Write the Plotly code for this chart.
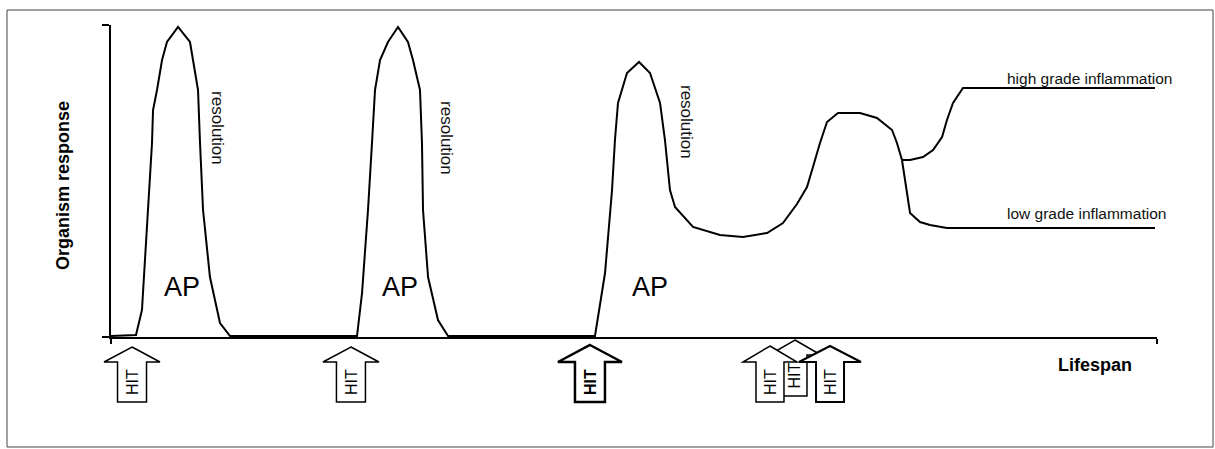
import plotly.graph_objects as go

# ---- data (lifespan units 0-100, organism response 0-100) ----
main_x = [0, 2.39, 2.96, 3.54, 3.92, 4.02, 4.40, 4.88, 5.35, 6.41, 7.55, 7.84, 8.32, 8.51, 8.80, 9.46, 10.42, 11.38,
          23.52, 24.00, 24.57, 24.95, 25.24, 25.72, 26.48, 27.44, 28.39, 28.87, 29.54, 29.73, 29.83, 30.31, 31.26, 32.22,
          46.27, 47.23, 47.90, 48.18, 48.47, 49.33, 50.48, 51.53, 52.49, 52.96, 53.44, 53.92, 55.64, 58.22, 60.42,
          62.72, 64.24, 65.58, 66.54, 67.11, 67.78, 68.45, 69.50, 71.61, 73.23, 74.67, 75.14, 75.62]
main_y = [0.32, 0.64, 8.65, 40.71, 62.18, 72.76, 79.17, 88.78, 94.55, 99.36, 94.55, 88.78, 79.17, 62.18, 40.71, 19.23, 4.49, 0.32,
          0.32, 14.10, 40.71, 62.18, 79.17, 88.78, 94.55, 99.36, 94.55, 88.78, 79.17, 62.18, 40.71, 19.23, 5.45, 0.32,
          0.32, 20.51, 47.12, 63.14, 75.00, 84.62, 88.14, 84.62, 75.00, 63.14, 47.12, 41.67, 35.26, 32.69, 32.05,
          33.33, 36.54, 42.63, 48.08, 54.49, 62.18, 68.91, 71.79, 71.79, 70.19, 66.35, 62.18, 56.73]
high_x = [75.62, 76.39, 77.63, 78.59, 79.45, 79.92, 80.50, 81.45, 99.81]
high_y = [56.73, 56.73, 57.69, 59.94, 64.10, 69.55, 75.00, 79.81, 79.81]
low_x = [75.62, 76.10, 76.39, 77.34, 78.30, 79.92, 99.81]
low_y = [56.73, 46.15, 39.74, 36.86, 35.90, 34.94, 34.94]

hit_times = [2.01, 22.94, 45.79, 65.39, 63.0, 68.74]
hit_labels = ["HIT", "HIT", "HIT", "HIT", "HIT", "HIT"]

ap_x = [6.79, 27.63, 51.53]
ap_y = [16.0, 16.0, 16.0]
res_x = [10.13, 32.12, 55.07]
res_y = [66.99, 63.78, 68.91]

# ---- styles ----
FONT = "Liberation Sans, Arial, sans-serif"
W, H = 1215, 449
ML, MR, MT, MB = 111, 58, 25, 112
X_RANGE = [0, 100]
Y_RANGE = [0, 100]
# arrow geometry (pixels): tip depth, head depth, bottom depth, head half width, shaft half width, line width, bold
arrow_style = [
    (10, 25, 65, 28, 14.5, 1.5, False),
    (10, 25, 65, 28, 14.5, 1.5, False),
    (8, 25, 65, 32, 15, 2.5, True),
    (3, 18, 59, 26, 12, 1.5, False),
    (9, 25, 65, 27, 14, 1.5, False),
    (9, 25, 65, 31, 14, 2, False),
]


def x_to_paper(v):
    return (v - X_RANGE[0]) / (X_RANGE[1] - X_RANGE[0])


fig = go.Figure()
line = dict(color="black", width=2)
fig.add_trace(go.Scatter(x=main_x, y=main_y, mode="lines", line=line, hoverinfo="skip"))
fig.add_trace(go.Scatter(x=high_x, y=high_y, mode="lines", line=line, hoverinfo="skip"))
fig.add_trace(go.Scatter(x=low_x, y=low_y, mode="lines", line=line, hoverinfo="skip"))

shapes = []
annotations = []
for t, lab, (tip, hd, bot, hw, sw, lw, bold) in zip(hit_times, hit_labels, arrow_style):
    path = (f"M 0 {-tip} L {hw} {-hd} L {sw} {-hd} L {sw} {-bot} L {-sw} {-bot} "
            f"L {-sw} {-hd} L {-hw} {-hd} Z")
    shapes.append(dict(type="path", xref="paper", yref="paper", xsizemode="pixel", ysizemode="pixel",
                       xanchor=x_to_paper(t), yanchor=0, path=path, fillcolor="white",
                       line=dict(color="black", width=lw)))
    annotations.append(dict(x=t, y=0, xref="x", yref="y", yshift=-(hd + bot) / 2,
                            text=f"<b>{lab}</b>" if bold else lab, textangle=-90, showarrow=False,
                            font=dict(family=FONT, size=16, color="black")))

for x, y in zip(ap_x, ap_y):
    annotations.append(dict(x=x, y=y, xref="x", yref="y", text="AP", showarrow=False,
                            font=dict(family=FONT, size=27, color="black")))
for x, y in zip(res_x, res_y):
    annotations.append(dict(x=x, y=y, xref="x", yref="y", text="resolution", textangle=90,
                            showarrow=False, font=dict(family=FONT, size=17, color="#111")))

annotations.append(dict(x=85.47, y=83.0, xref="x", yref="y", xanchor="left", text="high grade inflammation",
                        showarrow=False, font=dict(family=FONT, size=15.5, color="#111")))
annotations.append(dict(x=85.47, y=39.74, xref="x", yref="y", xanchor="left", text="low grade inflammation",
                        showarrow=False, font=dict(family=FONT, size=15.5, color="#111")))
annotations.append(dict(x=94.07, y=0, xref="x", yref="y", yshift=-28, text="<b>Lifespan</b>",
                        showarrow=False, font=dict(family=FONT, size=18, color="black")))
annotations.append(dict(x=-48 / (W - ML - MR), y=48.4, xref="paper", yref="y", xanchor="center",
                        yanchor="middle", text="<b>Organism response</b>",
                        textangle=-90, showarrow=False, font=dict(family=FONT, size=18, color="black")))

# outer frame
pw, ph = W - ML - MR, H - MT - MB
shapes.append(dict(type="rect", xref="paper", yref="paper",
                   x0=(7 - ML) / pw, x1=(1213 - ML) / pw,
                   y0=-(447 - MT - ph) / ph, y1=(H - MB - 10) / ph,
                   line=dict(color="#444", width=1), fillcolor="rgba(0,0,0,0)", layer="below"))

fig.update_layout(
    width=W, height=H, autosize=False,
    margin=dict(l=ML, r=MR, t=MT, b=MB),
    paper_bgcolor="white", plot_bgcolor="white",
    showlegend=False, shapes=shapes, annotations=annotations,
    xaxis=dict(range=X_RANGE, showgrid=False, zeroline=False, showline=True, linecolor="black",
               linewidth=2, ticks="outside", tickvals=[0, 100], ticklen=5, tickwidth=2,
               tickcolor="black", showticklabels=False, fixedrange=True),
    yaxis=dict(range=Y_RANGE, showgrid=False, zeroline=False, showline=True, linecolor="black",
               linewidth=2, ticks="outside", tickvals=[0, 100], ticklen=7, tickwidth=2,
               tickcolor="black", showticklabels=False, fixedrange=True),
)
fig.write_html("out.html", config={"displayModeBar": False},
               post_script="document.body.style.margin='0';document.body.style.overflow='hidden';")
